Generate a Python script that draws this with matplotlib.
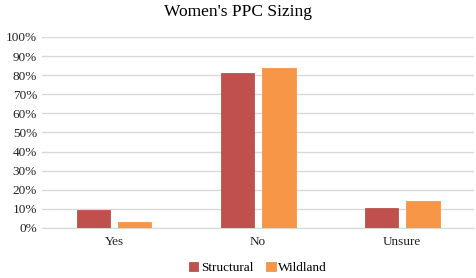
import numpy as np
import matplotlib.pyplot as plt
from matplotlib.ticker import PercentFormatter

plt.rcParams['font.family'] = ['Liberation Serif', 'DejaVu Serif']

categories = ['Yes', 'No', 'Unsure']
structural = [9.5, 81, 10.5]
wildland = [3, 84, 14]

fig = plt.figure(figsize=(4.77, 2.78), dpi=100)
ax = fig.add_axes([0.088, 0.180, 0.906, 0.687])

x = np.arange(len(categories))
w = 0.23
ax.bar(x - 0.145, structural, w, color='#C0504D', edgecolor='#B04440', linewidth=0.5, label='Structural', zorder=3)
ax.bar(x + 0.145, wildland, w, color='#F79646', edgecolor='#F08A38', linewidth=0.5, label='Wildland', zorder=3)

ax.set_xlim(-0.5, 2.5)
ax.set_ylim(0, 100)
ax.set_yticks(np.arange(0, 101, 10))
ax.yaxis.set_major_formatter(PercentFormatter(decimals=0))
ax.set_xticks(x)
ax.set_xticklabels(categories)
ax.grid(axis='y', color='#D9D9D9', linewidth=1, zorder=0)
for s in ['top', 'right', 'left']:
    ax.spines[s].set_visible(False)
ax.spines['bottom'].set_color('#D9D9D9')
ax.tick_params(axis='both', length=0, labelsize=9.5, colors='#222222')
ax.tick_params(axis='x', pad=6)

fig.suptitle("Women's PPC Sizing", y=0.985, fontsize=12.5)
ax.legend(loc='center', bbox_to_anchor=(0.5, -0.21), ncol=2, frameon=False,
          fontsize=9.5, handlelength=0.7, handleheight=0.7, handletextpad=0.2,
          columnspacing=1.0, borderpad=0)

fig.savefig('out.png', dpi=100)
